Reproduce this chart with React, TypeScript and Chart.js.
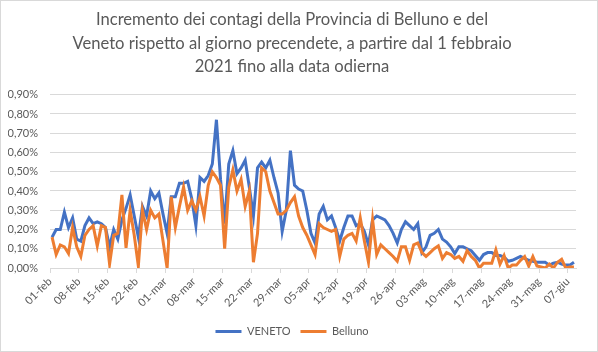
import React, { useEffect, useRef } from "react";
import { Chart, registerables } from "chart.js";

Chart.register(...registerables);

const TITLE_LINES = [
  "Incremento dei contagi della Provincia di Belluno e del",
  "Veneto rispetto al giorno precendete, a partire dal 1 febbraio",
  "2021 fino alla data odierna",
];

// one tick every 7 days, starting 01-feb
const TICK_LABELS = [
  "01-feb", "08-feb", "15-feb", "22-feb", "01-mar", "08-mar", "15-mar",
  "22-mar", "29-mar", "05-apr", "12-apr", "19-apr", "26-apr", "03-mag",
  "10-mag", "17-mag", "24-mag", "31-mag", "07-giu",
];
const TICK_STEP_DAYS = 7;
const TOTAL_DAYS = 128;

// daily increment (%) – Veneto
const VENETO = [
  0.16, 0.20, 0.20, 0.29, 0.21, 0.26, 0.15, 0.14, 0.22, 0.26,
  0.23, 0.24, 0.23, 0.21, 0.11, 0.20, 0.15, 0.25, 0.31, 0.38,
  0.27, 0.16, 0.32, 0.27, 0.40, 0.36, 0.39, 0.28, 0.18, 0.37,
  0.37, 0.44, 0.44, 0.45, 0.36, 0.22, 0.47, 0.45, 0.48, 0.54,
  0.77, 0.46, 0.23, 0.54, 0.61, 0.49, 0.52, 0.56, 0.42, 0.27,
  0.52, 0.55, 0.52, 0.56, 0.47, 0.39, 0.19, 0.30, 0.61, 0.43,
  0.41, 0.40, 0.30, 0.18, 0.13, 0.28, 0.32, 0.25, 0.27, 0.21,
  0.14, 0.21, 0.27, 0.27, 0.22, 0.23, 0.19, 0.12, 0.25, 0.27,
  0.26, 0.25, 0.22, 0.18, 0.13, 0.20, 0.24, 0.22, 0.20, 0.23,
  0.08, 0.11, 0.17, 0.18, 0.20, 0.15, 0.135, 0.11, 0.075, 0.11,
  0.11, 0.10, 0.09, 0.065, 0.04, 0.07, 0.08, 0.08, 0.065, 0.065,
  0.057, 0.035, 0.04, 0.05, 0.06, 0.05, 0.04, 0.035, 0.03, 0.03,
  0.03, 0.015, 0.025, 0.03, 0.02, 0.015, 0.015, 0.03,
];

// daily increment (%) – Belluno
const BELLUNO = [
  0.16, 0.07, 0.12, 0.11, 0.075, 0.21, 0.11, 0.06, 0.17, 0.20,
  0.22, 0.115, 0.22, 0.21, 0.02, 0.17, 0.18, 0.38, 0.105, 0.30,
  0.17, 0.01, 0.30, 0.20, 0.30, 0.26, 0.28, 0.14, 0.00, 0.37,
  0.21, 0.32, 0.42, 0.30, 0.35, 0.30, 0.37, 0.27, 0.43, 0.50,
  0.47, 0.43, 0.10, 0.42, 0.51, 0.40, 0.46, 0.32, 0.40, 0.03,
  0.18, 0.52, 0.50, 0.40, 0.34, 0.28, 0.28, 0.30, 0.34, 0.37,
  0.27, 0.21, 0.17, 0.12, 0.07, 0.23, 0.21, 0.20, 0.19, 0.20,
  0.06, 0.15, 0.17, 0.18, 0.14, 0.26, 0.14, 0.03, 0.25, 0.07,
  0.12, 0.10, 0.08, 0.06, 0.035, 0.11, 0.11, 0.04, 0.12, 0.13,
  0.08, 0.06, 0.08, 0.10, 0.115, 0.05, 0.08, 0.07, 0.05, 0.06,
  0.035, 0.09, 0.06, 0.04, 0.00, 0.025, 0.025, 0.025, 0.095, 0.02,
  0.065, 0.00, 0.015, 0.015, 0.04, 0.06, 0.01, 0.06, 0.01, 0.005,
  0.00, 0.02, 0.00, 0.03, 0.045, 0.00, 0.005, 0.005,
];

const TEXT_COLOR = "#595959";
const GRID_COLOR = "#d9d9d9";
const FONT = "Lato, 'Open Sans', sans-serif";

function toPoints(values: number[]) {
  // each day sits in the middle of its own day-slot on the date axis
  return values.map((v, i) => ({ x: i + 0.5, y: v }));
}

export default function App() {
  const canvasRef = useRef<HTMLCanvasElement | null>(null);

  useEffect(() => {
    document.body.style.margin = "0";
    const canvas = canvasRef.current;
    if (!canvas) return;
    const chart = new Chart(canvas, {
      type: "line",
      data: {
        datasets: [
          {
            label: "VENETO",
            data: toPoints(VENETO),
            borderColor: "#4472C4",
            backgroundColor: "#4472C4",
            borderWidth: 3,
            pointRadius: 0,
            tension: 0,
            fill: false,
            order: 1,
          },
          {
            label: "Belluno",
            data: toPoints(BELLUNO),
            borderColor: "#ED7D31",
            backgroundColor: "#ED7D31",
            borderWidth: 3,
            pointRadius: 0,
            tension: 0,
            fill: false,
            order: 0,
          },
        ],
      },
      options: {
        responsive: false,
        animation: false,
        devicePixelRatio: 1,
        layout: { padding: { left: 7, right: 21, top: 0, bottom: 4 } },
        plugins: {
          title: {
            display: true,
            text: TITLE_LINES,
            color: TEXT_COLOR,
            font: { family: FONT, size: 16.6, weight: "normal", lineHeight: 1.42 },
            padding: { top: 7, bottom: 16 },
          },
          legend: {
            display: true,
            position: "bottom",
            labels: {
              color: TEXT_COLOR,
              font: { family: FONT, size: 11 },
              usePointStyle: true,
              pointStyle: "line",
              pointStyleWidth: 26,
              boxHeight: 11,
              padding: 10,
              sort: (a: any, b: any) => a.datasetIndex - b.datasetIndex,
            },
          },
          tooltip: { enabled: false },
        },
        scales: {
          x: {
            type: "linear",
            min: 0,
            max: TOTAL_DAYS,
            afterBuildTicks: (scale: any) => {
              scale.ticks = TICK_LABELS.map((_, i) => ({ value: i * TICK_STEP_DAYS }));
            },
            afterFit: (scale: any) => {
              scale.height = 48;
            },
            ticks: {
              color: TEXT_COLOR,
              font: { family: FONT, size: 11 },
              maxRotation: 45,
              minRotation: 45,
              padding: 2,
              autoSkip: false,
              callback: (value: any) => {
                const idx = Math.round(Number(value) / TICK_STEP_DAYS);
                return TICK_LABELS[idx] ?? "";
              },
            },
            grid: {
              drawOnChartArea: false,
              drawTicks: true,
              tickLength: 5,
              color: GRID_COLOR,
            },
            border: { display: true, color: GRID_COLOR },
          },
          y: {
            min: 0,
            max: 0.9,
            afterFit: (scale: any) => {
              scale.width = 42;
            },
            ticks: {
              stepSize: 0.1,
              color: TEXT_COLOR,
              font: { family: FONT, size: 11 },
              padding: 12,
              callback: (value: any) => Number(value).toFixed(2).replace(".", ",") + "%",
            },
            grid: { color: GRID_COLOR, drawTicks: false },
            border: { display: false },
          },
        },
      },
    });
    return () => chart.destroy();
  }, []);

  return (
    <div
      style={{
        width: 598,
        height: 352,
        border: "1px solid #d9d9d9",
        boxSizing: "border-box",
        background: "#ffffff",
      }}
    >
      <canvas ref={canvasRef} width={596} height={350} style={{ display: "block" }} />
    </div>
  );
}
